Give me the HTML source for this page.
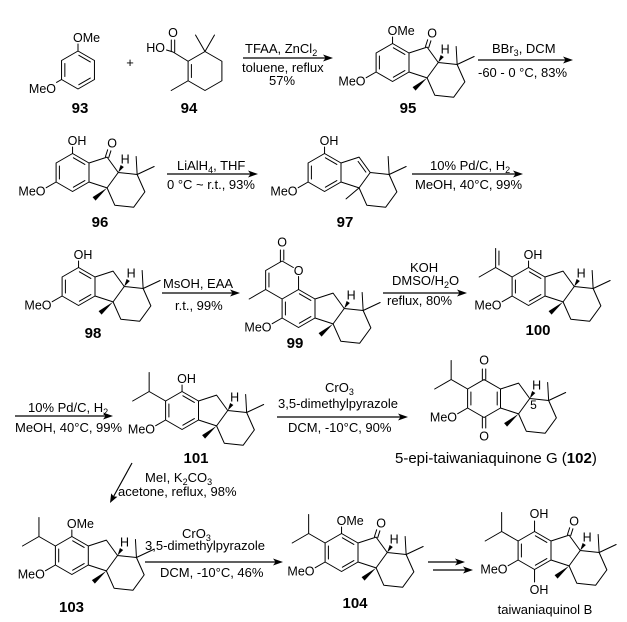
<!DOCTYPE html>
<html><head><meta charset="utf-8"><style>
html,body{margin:0;padding:0;background:#fff;}
svg{display:block;}
.b{stroke:#000;stroke-width:1;fill:none;stroke-linejoin:round;stroke-linecap:round}
.ar{stroke:#000;stroke-width:1.15;fill:none}
.w{fill:#000;stroke:none}
text{font-family:"Liberation Sans",Arial,sans-serif;fill:#000}
.a{font-size:12.5px}
.r{font-size:13px}
.n{font-size:15px;font-weight:bold}
</style></head><body>
<svg width="627" height="622" viewBox="0 0 627 622" xmlns="http://www.w3.org/2000/svg">

<!-- 93 -->
<path class="b" d="M78,51L94.45,60.5L94.45,79.5L78,89L61.55,79.5L61.55,60.5Z M64.85,63.5L64.85,76.5 M78.82,55.29L90.33,61.93 M90.33,78.07L78.82,84.71 M78,51L78,44 M61.55,79.5L56.5,82.4"/>
<text class="a" x="73" y="42">OMe</text>
<text class="a" x="56" y="93" text-anchor="end">MeO</text>
<text class="r" x="130" y="67" text-anchor="middle">+</text>
<text class="n" x="80" y="113" text-anchor="middle">93</text>

<!-- 94 -->
<path class="b" d="M205,51.5L221.9,61.25L221.9,80.75L205,90.5L188.1,80.75L188.1,61.25Z M191.4,64.5L191.4,77.5 M205,51.5L195.5,35 M205,51.5L214.5,35 M188.1,80.75L171.2,90.5 M188.1,61.25L173,52 M171.3,51L171.3,40 M174.7,52L174.7,40 M173,52L166.5,50"/>
<text class="a" x="173" y="37" text-anchor="middle">O</text>
<text class="a" x="165" y="52" text-anchor="end">HO</text>
<text class="n" x="189" y="113" text-anchor="middle">94</text>

<!-- arrow 1 -->
<path class="ar" d="M243,58L326,58"/><polygon class="w" points="333,58 323,54.5 325.5,58 323,61.5"/>
<text class="r" x="245" y="53">TFAA, ZnCl<tspan font-size="9" dy="3">2</tspan></text>
<text class="r" x="242" y="72">toluene, reflux</text>
<text class="r" x="282" y="85" text-anchor="middle">57%</text>

<!-- 95 -->
<g transform="translate(409,53)">
<path class="b" d="M-16.45,-9.5L0,0L0,19L-16.45,28.5L-32.9,19L-32.9,0Z M0,0L18.07,-5.87L29.24,9.5L18.07,24.87L0,19 M29.24,9.5L48.14,11.5L55.87,28.86L44.7,44.23L25.8,42.2L18.07,24.87 M48.14,11.5L47.14,-6.5 M48.14,11.5L65.14,3.5"/>
<path class="b" d="M-29.6,3L-29.6,16 M-15.63,-5.21L-4.12,1.43 M-4.12,17.57L-15.63,24.21"/>
<polygon class="w" points="18.07,24.87 6.56,37.62 3.58,34.12"/>
<polygon class="w" points="29.24,9.5 34.86,4 31.62,2"/>
<text class="a" x="36.2" y="0.5" text-anchor="middle">H</text>
<path class="b" d="M-16.45,-9.5L-16.45,-16 M-32.9,19L-42.8,24.7 M16.45,-6.4L18.67,-13.25 M19.69,-5.34L21.91,-12.19"/>
<text class="a" x="-21.4" y="-18">OMe</text>
<text class="a" x="-43.5" y="32.6" text-anchor="end">MeO</text>
<text class="a" x="23.1" y="-15.4" text-anchor="middle">O</text>
</g>
<text class="n" x="408" y="113" text-anchor="middle">95</text>

<!-- arrow 2 -->
<path class="ar" d="M478,60L566,60"/><polygon class="w" points="573,60 563,56.5 565.5,60 563,63.5"/>
<text class="r" x="492" y="53">BBr<tspan font-size="9" dy="3">3</tspan><tspan dy="-3">, DCM</tspan></text>
<text class="r" x="478" y="77">-60 - 0 °C, 83%</text>

<!-- 96 -->
<g transform="translate(89,163)">
<path class="b" d="M-16.45,-9.5L0,0L0,19L-16.45,28.5L-32.9,19L-32.9,0Z M0,0L18.07,-5.87L29.24,9.5L18.07,24.87L0,19 M29.24,9.5L48.14,11.5L55.87,28.86L44.7,44.23L25.8,42.2L18.07,24.87 M48.14,11.5L47.14,-6.5 M48.14,11.5L65.14,3.5"/>
<path class="b" d="M-29.6,3L-29.6,16 M-15.63,-5.21L-4.12,1.43 M-4.12,17.57L-15.63,24.21"/>
<polygon class="w" points="18.07,24.87 6.56,37.62 3.58,34.12"/>
<polygon class="w" points="29.24,9.5 34.86,4 31.62,2"/>
<text class="a" x="36.2" y="0.5" text-anchor="middle">H</text>
<path class="b" d="M-16.45,-9.5L-16.45,-16 M-32.9,19L-42.8,24.7 M16.45,-6.4L18.67,-13.25 M19.69,-5.34L21.91,-12.19"/>
<text class="a" x="-21.4" y="-18">OH</text>
<text class="a" x="-43.5" y="32.6" text-anchor="end">MeO</text>
<text class="a" x="23.1" y="-15.4" text-anchor="middle">O</text>
</g>
<text class="n" x="100" y="227" text-anchor="middle">96</text>

<!-- arrow 3 -->
<path class="ar" d="M167,174L251,174"/><polygon class="w" points="258,174 248,170.5 250.5,174 248,177.5"/>
<text class="r" x="177" y="170">LiAlH<tspan font-size="9" dy="3">4</tspan><tspan dy="-3">, THF</tspan></text>
<text class="r" x="167" y="189">0 °C ~ r.t., 93%</text>

<!-- 97 -->
<g transform="translate(341,163)">
<path class="b" d="M-16.45,-9.5L0,0L0,19L-16.45,28.5L-32.9,19L-32.9,0Z M0,0L18.07,-5.87L29.24,9.5L18.07,24.87L0,19 M29.24,9.5L48.14,11.5L55.87,28.86L44.7,44.23L25.8,42.2L18.07,24.87 M48.14,11.5L47.14,-6.5 M48.14,11.5L65.14,3.5"/>
<path class="b" d="M-29.6,3L-29.6,16 M-15.63,-5.21L-4.12,1.43 M-4.12,17.57L-15.63,24.21 M17.08,-1.62L24.89,9.13 M18.07,24.87L5.07,35.87"/>
<path class="b" d="M-16.45,-9.5L-16.45,-16 M-32.9,19L-42.8,24.7"/>
<text class="a" x="-21.4" y="-18">OH</text>
<text class="a" x="-43.5" y="32.6" text-anchor="end">MeO</text>
</g>
<text class="n" x="345" y="227" text-anchor="middle">97</text>

<!-- arrow 4 -->
<path class="ar" d="M412,174L516,174"/><polygon class="w" points="523,174 513,170.5 515.5,174 513,177.5"/>
<text class="r" x="430" y="170">10% Pd/C, H<tspan font-size="9" dy="3">2</tspan></text>
<text class="r" x="415" y="189">MeOH, 40°C, 99%</text>

<!-- 98 -->
<g transform="translate(95,277)">
<path class="b" d="M-16.45,-9.5L0,0L0,19L-16.45,28.5L-32.9,19L-32.9,0Z M0,0L18.07,-5.87L29.24,9.5L18.07,24.87L0,19 M29.24,9.5L48.14,11.5L55.87,28.86L44.7,44.23L25.8,42.2L18.07,24.87 M48.14,11.5L47.14,-6.5 M48.14,11.5L65.14,3.5"/>
<path class="b" d="M-29.6,3L-29.6,16 M-15.63,-5.21L-4.12,1.43 M-4.12,17.57L-15.63,24.21"/>
<polygon class="w" points="18.07,24.87 6.56,37.62 3.58,34.12"/>
<polygon class="w" points="29.24,9.5 34.86,4 31.62,2"/>
<text class="a" x="36.2" y="0.5" text-anchor="middle">H</text>
<path class="b" d="M-16.45,-9.5L-16.45,-16 M-32.9,19L-42.8,24.7"/>
<text class="a" x="-21.4" y="-18">OH</text>
<text class="a" x="-43.5" y="32.6" text-anchor="end">MeO</text>
</g>
<text class="n" x="93" y="338" text-anchor="middle">98</text>

<!-- arrow 5 -->
<path class="ar" d="M162,293L233,293"/><polygon class="w" points="240,293 230,289.5 232.5,293 230,296.5"/>
<text class="r" x="163" y="288">MsOH, EAA</text>
<text class="r" x="175" y="310">r.t., 99%</text>

<!-- 99 -->
<g transform="translate(315,299)">
<path class="b" d="M-16.45,-9.5L0,0L0,19L-16.45,28.5L-32.9,19L-32.9,0Z M0,0L18.07,-5.87L29.24,9.5L18.07,24.87L0,19 M29.24,9.5L48.14,11.5L55.87,28.86L44.7,44.23L25.8,42.2L18.07,24.87 M48.14,11.5L47.14,-6.5 M48.14,11.5L65.14,3.5"/>
<path class="b" d="M-29.6,3L-29.6,16 M-15.63,-5.21L-4.12,1.43 M-4.12,17.57L-15.63,24.21"/>
<polygon class="w" points="18.07,24.87 6.56,37.62 3.58,34.12"/>
<polygon class="w" points="29.24,9.5 34.86,4 31.62,2"/>
<text class="a" x="36.2" y="0.5" text-anchor="middle">H</text>
<path class="b" d="M-16.45,-9.5L-16.45,-22.5 M-21.7,-31.5L-32.9,-38L-49.35,-28.5L-49.35,-9.5L-32.9,0 M-49.35,-9.5L-65.8,0 M-46.05,-26L-46.05,-12 M-34.6,-37L-34.6,-49 M-31.2,-38.9L-31.2,-49 M-32.9,19L-42.8,24.7"/>
<text class="a" x="-16.45" y="-23.9" text-anchor="middle">O</text>
<text class="a" x="-32.9" y="-52.4" text-anchor="middle">O</text>
<text class="a" x="-43.5" y="32.6" text-anchor="end">MeO</text>
</g>
<text class="n" x="295" y="348" text-anchor="middle">99</text>

<!-- arrow 6 -->
<path class="ar" d="M383,293L460,293"/><polygon class="w" points="467,293 457,289.5 459.5,293 457,296.5"/>
<text class="r" x="410" y="272">KOH</text>
<text class="r" x="392" y="285">DMSO/H<tspan font-size="9" dy="3">2</tspan><tspan dy="-3">O</tspan></text>
<text class="r" x="387" y="305">reflux, 80%</text>

<!-- 100 -->
<g transform="translate(545,277)">
<path class="b" d="M-16.45,-9.5L0,0L0,19L-16.45,28.5L-32.9,19L-32.9,0Z M0,0L18.07,-5.87L29.24,9.5L18.07,24.87L0,19 M29.24,9.5L48.14,11.5L55.87,28.86L44.7,44.23L25.8,42.2L18.07,24.87 M48.14,11.5L47.14,-6.5 M48.14,11.5L65.14,3.5"/>
<path class="b" d="M-29.6,3L-29.6,16 M-15.63,-5.21L-4.12,1.43 M-4.12,17.57L-15.63,24.21"/>
<polygon class="w" points="18.07,24.87 6.56,37.62 3.58,34.12"/>
<polygon class="w" points="29.24,9.5 34.86,4 31.62,2"/>
<text class="a" x="36.2" y="0.5" text-anchor="middle">H</text>
<path class="b" d="M-16.45,-9.5L-16.45,-16 M-32.9,19L-42.8,24.7 M-32.9,0L-49.35,-9.5L-49.35,-28.5 M-49.35,-9.5L-65.8,0 M-46.05,-12L-46.05,-26"/>
<text class="a" x="-21.4" y="-18">OH</text>
<text class="a" x="-43.5" y="32.6" text-anchor="end">MeO</text>
</g>
<text class="n" x="538" y="335" text-anchor="middle">100</text>

<!-- arrow 7 -->
<path class="ar" d="M15,416L106,416"/><polygon class="w" points="113,416 103,412.5 105.5,416 103,419.5"/>
<text class="r" x="28" y="412">10% Pd/C, H<tspan font-size="9" dy="3">2</tspan></text>
<text class="r" x="15" y="432">MeOH, 40°C, 99%</text>

<!-- 101 -->
<g transform="translate(198.5,401)">
<path class="b" d="M-16.45,-9.5L0,0L0,19L-16.45,28.5L-32.9,19L-32.9,0Z M0,0L18.07,-5.87L29.24,9.5L18.07,24.87L0,19 M29.24,9.5L48.14,11.5L55.87,28.86L44.7,44.23L25.8,42.2L18.07,24.87 M48.14,11.5L47.14,-6.5 M48.14,11.5L65.14,3.5"/>
<path class="b" d="M-29.6,3L-29.6,16 M-15.63,-5.21L-4.12,1.43 M-4.12,17.57L-15.63,24.21"/>
<polygon class="w" points="18.07,24.87 6.56,37.62 3.58,34.12"/>
<polygon class="w" points="29.24,9.5 34.86,4 31.62,2"/>
<text class="a" x="36.2" y="0.5" text-anchor="middle">H</text>
<path class="b" d="M-16.45,-9.5L-16.45,-16 M-32.9,19L-42.8,24.7 M-32.9,0L-49.35,-9.5L-49.35,-28.5 M-49.35,-9.5L-65.8,0"/>
<text class="a" x="-21.4" y="-18">OH</text>
<text class="a" x="-43.5" y="32.6" text-anchor="end">MeO</text>
</g>
<text class="n" x="196" y="463" text-anchor="middle">101</text>

<!-- arrow 8 -->
<path class="ar" d="M277,417L401,417"/><polygon class="w" points="408,417 398,413.5 400.5,417 398,420.5"/>
<text class="r" x="325" y="392">CrO<tspan font-size="9" dy="3">3</tspan></text>
<text class="r" x="278" y="408">3,5-dimethylpyrazole</text>
<text class="r" x="288" y="432">DCM, -10°C, 90%</text>

<!-- 102 -->
<g transform="translate(500.5,389)">
<path class="b" d="M-16.45,-9.5L0,0L0,19L-16.45,28.5L-32.9,19L-32.9,0Z M0,0L18.07,-5.87L29.24,9.5L18.07,24.87L0,19 M29.24,9.5L48.14,11.5L55.87,28.86L44.7,44.23L25.8,42.2L18.07,24.87 M48.14,11.5L47.14,-6.5 M48.14,11.5L65.14,3.5"/>
<path class="b" d="M-29.6,3L-29.6,16 M-3.3,3L-3.3,16 M-18.15,-9.5L-18.15,-20 M-14.75,-9.5L-14.75,-20 M-18.15,28.5L-18.15,39 M-14.75,28.5L-14.75,39"/>
<polygon class="w" points="18.07,24.87 6.56,37.62 3.58,34.12"/>
<polygon class="w" points="29.24,9.5 34.86,4 31.62,2"/>
<text class="a" x="36.2" y="0.5" text-anchor="middle">H</text>
<text style="font-size:12px" x="33" y="20" text-anchor="middle">5</text>
<path class="b" d="M-32.9,19L-42.8,24.7 M-32.9,0L-49.35,-9.5L-49.35,-28.5 M-49.35,-9.5L-65.8,0"/>
<text class="a" x="-16.45" y="-24.4" text-anchor="middle">O</text>
<text class="a" x="-16.45" y="51.6" text-anchor="middle">O</text>
<text class="a" x="-43.5" y="32.6" text-anchor="end">MeO</text>
</g>
<text style="font-size:15px" x="395" y="463">5-epi-taiwaniaquinone G (<tspan font-weight="bold">102</tspan>)</text>

<!-- arrow 9 (diagonal) -->
<path class="ar" d="M132,463L113.6,496.4"/><polygon class="w" points="110,503 117.4,496.8 113.6,496.4 111.2,493.4"/>
<text class="r" x="145" y="482">MeI, K<tspan font-size="9" dy="3">2</tspan><tspan dy="-3">CO</tspan><tspan font-size="9" dy="3">3</tspan></text>
<text class="r" x="118" y="496">acetone, reflux, 98%</text>

<!-- 103 -->
<g transform="translate(88.3,546)">
<path class="b" d="M-16.45,-9.5L0,0L0,19L-16.45,28.5L-32.9,19L-32.9,0Z M0,0L18.07,-5.87L29.24,9.5L18.07,24.87L0,19 M29.24,9.5L48.14,11.5L55.87,28.86L44.7,44.23L25.8,42.2L18.07,24.87 M48.14,11.5L47.14,-6.5 M48.14,11.5L65.14,3.5"/>
<path class="b" d="M-29.6,3L-29.6,16 M-15.63,-5.21L-4.12,1.43 M-4.12,17.57L-15.63,24.21"/>
<polygon class="w" points="18.07,24.87 6.56,37.62 3.58,34.12"/>
<polygon class="w" points="29.24,9.5 34.86,4 31.62,2"/>
<text class="a" x="36.2" y="0.5" text-anchor="middle">H</text>
<path class="b" d="M-16.45,-9.5L-16.45,-16 M-32.9,19L-42.8,24.7 M-32.9,0L-49.35,-9.5L-49.35,-28.5 M-49.35,-9.5L-65.8,0"/>
<text class="a" x="-21.4" y="-18">OMe</text>
<text class="a" x="-43.5" y="32.6" text-anchor="end">MeO</text>
</g>
<text class="n" x="71.5" y="612" text-anchor="middle">103</text>

<!-- arrow 10 -->
<path class="ar" d="M145,562L276,562"/><polygon class="w" points="283,562 273,558.5 275.5,562 273,565.5"/>
<text class="r" x="182" y="538">CrO<tspan font-size="9" dy="3">3</tspan></text>
<text class="r" x="145" y="550">3,5-dimethylpyrazole</text>
<text class="r" x="160" y="577">DCM, -10°C, 46%</text>

<!-- 104 -->
<g transform="translate(358,543)">
<path class="b" d="M-16.45,-9.5L0,0L0,19L-16.45,28.5L-32.9,19L-32.9,0Z M0,0L18.07,-5.87L29.24,9.5L18.07,24.87L0,19 M29.24,9.5L48.14,11.5L55.87,28.86L44.7,44.23L25.8,42.2L18.07,24.87 M48.14,11.5L47.14,-6.5 M48.14,11.5L65.14,3.5"/>
<path class="b" d="M-29.6,3L-29.6,16 M-15.63,-5.21L-4.12,1.43 M-4.12,17.57L-15.63,24.21"/>
<polygon class="w" points="18.07,24.87 6.56,37.62 3.58,34.12"/>
<polygon class="w" points="29.24,9.5 34.86,4 31.62,2"/>
<text class="a" x="36.2" y="0.5" text-anchor="middle">H</text>
<path class="b" d="M-16.45,-9.5L-16.45,-16 M-32.9,19L-42.8,24.7 M-32.9,0L-49.35,-9.5L-49.35,-28.5 M-49.35,-9.5L-65.8,0 M16.45,-6.4L18.67,-13.25 M19.69,-5.34L21.91,-12.19"/>
<text class="a" x="-21.4" y="-18">OMe</text>
<text class="a" x="-43.5" y="32.6" text-anchor="end">MeO</text>
<text class="a" x="23.1" y="-15.4" text-anchor="middle">O</text>
</g>
<text class="n" x="355" y="608" text-anchor="middle">104</text>

<!-- double arrows -->
<path class="ar" d="M428,562L458,562"/><polygon class="w" points="465,562 455,558.5 457.5,562 455,565.5"/>
<path class="ar" d="M433,570L466,570"/><polygon class="w" points="473,570 463,566.5 465.5,570 463,573.5"/>

<!-- taiwaniaquinol B -->
<g transform="translate(551,541)">
<path class="b" d="M-16.45,-9.5L0,0L0,19L-16.45,28.5L-32.9,19L-32.9,0Z M0,0L18.07,-5.87L29.24,9.5L18.07,24.87L0,19 M29.24,9.5L48.14,11.5L55.87,28.86L44.7,44.23L25.8,42.2L18.07,24.87 M48.14,11.5L47.14,-6.5 M48.14,11.5L65.14,3.5"/>
<path class="b" d="M-29.6,3L-29.6,16 M-15.63,-5.21L-4.12,1.43 M-4.12,17.57L-15.63,24.21"/>
<polygon class="w" points="18.07,24.87 6.56,37.62 3.58,34.12"/>
<polygon class="w" points="29.24,9.5 34.86,4 31.62,2"/>
<text class="a" x="36.2" y="0.5" text-anchor="middle">H</text>
<path class="b" d="M-16.45,-9.5L-16.45,-20 M-16.45,28.5L-16.45,41 M-32.9,19L-42.8,24.7 M-32.9,0L-49.35,-9.5L-49.35,-28.5 M-49.35,-9.5L-65.8,0 M16.45,-6.4L18.67,-13.25 M19.69,-5.34L21.91,-12.19"/>
<text class="a" x="-21.4" y="-23">OH</text>
<text class="a" x="-21.4" y="53">OH</text>
<text class="a" x="-43.5" y="32.6" text-anchor="end">MeO</text>
<text class="a" x="23.1" y="-15.4" text-anchor="middle">O</text>
</g>
<text class="r" x="545" y="614" text-anchor="middle">taiwaniaquinol B</text>

</svg>
</body></html>
